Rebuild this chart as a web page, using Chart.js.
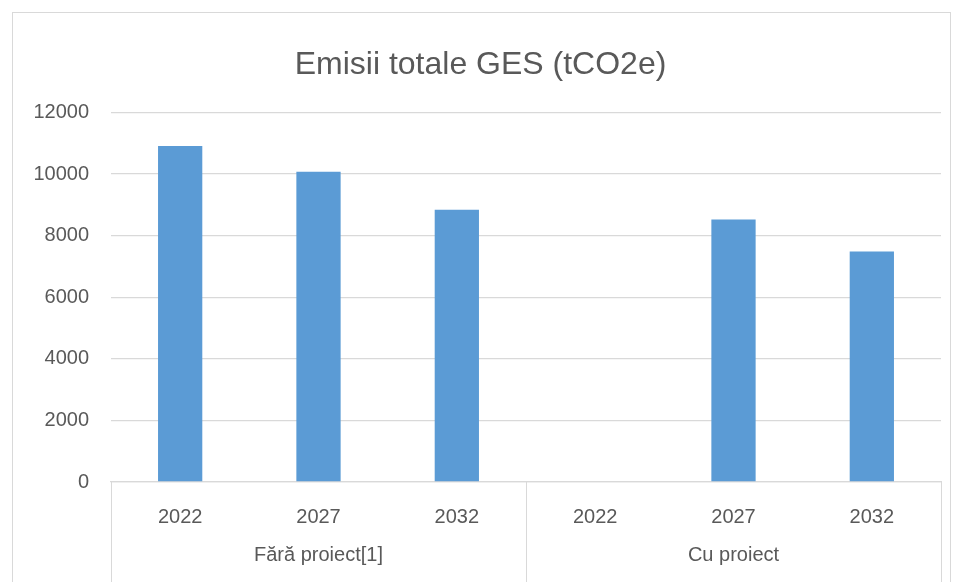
<!DOCTYPE html>
<html>
<head>
<meta charset="utf-8">
<script src="https://cdn.jsdelivr.net/npm/chart.js@4.4.1/dist/chart.umd.min.js"></script>
<style>
  html, body { margin: 0; padding: 0; background: #fff; }
  #wrap { width: 956px; height: 582px; }
</style>
</head>
<body>
<div id="wrap"><canvas id="grafic" width="956" height="582"></canvas></div>
<script>
const ani = ["2022", "2027", "2032", "2022", "2027", "2032"];
const grupuri = ["Fără proiect[1]", "Cu proiect"];
const emisii = [10910, 10070, 8840, null, 8520, 7480];
const yTicks = [0, 2000, 4000, 6000, 8000, 10000, 12000];

const gri = "#595959";
const linie = "#d9d9d9";
const font = "'Liberation Sans', Arial, sans-serif";

// chenar + separatoare intre grupuri
const decor = {
  id: "decor",
  beforeDraw(chart) {
    const ctx = chart.ctx;
    ctx.save();
    ctx.strokeStyle = linie;
    ctx.lineWidth = 1;
    ctx.strokeRect(12.5, 12.5, 938, 700);
    ctx.restore();
  },
  afterDraw(chart) {
    const ctx = chart.ctx;
    const x = chart.scales.x;
    const bottom = chart.chartArea.bottom;
    ctx.save();
    ctx.strokeStyle = linie;
    ctx.lineWidth = 1;
    [-0.5, 2.5, 5.5].forEach(v => {
      const px = Math.round(x.getPixelForValue(v)) + 0.5;
      ctx.beginPath();
      ctx.moveTo(px, bottom);
      ctx.lineTo(px, chart.height);
      ctx.stroke();
    });
    ctx.restore();
  }
};

new Chart(document.getElementById("grafic"), {
  type: "bar",
  data: {
    labels: ani,
    datasets: [{
      label: "Emisii",
      data: emisii,
      backgroundColor: "#5b9bd5",
      barPercentage: 0.32,
      categoryPercentage: 1
    }]
  },
  plugins: [decor],
  options: {
    responsive: false,
    animation: false,
    layout: { padding: { top: 46, left: 20, right: 15, bottom: 0 } },
    plugins: {
      legend: { display: false },
      tooltip: { enabled: false },
      title: {
        display: true,
        text: "Emisii totale GES (tCO2e)",
        color: gri,
        font: { family: font, size: 32, weight: "normal" },
        padding: { top: 0, bottom: 28 }
      }
    },
    scales: {
      y: {
        min: 0,
        max: 12000,
        afterBuildTicks(axis) { axis.ticks = yTicks.map(v => ({ value: v })); },
        afterFit(axis) { axis.width = 91; },
        grid: { color: linie, lineWidth: 1.3, drawTicks: false },
        border: { display: false },
        ticks: {
          color: gri, padding: 22, font: { family: font, size: 20 },
          callback: v => String(v)
        }
      },
      x: {
        offset: true,
        afterFit(axis) { axis.height = 48; },
        grid: { display: false },
        border: { display: true, color: linie, width: 1.3 },
        ticks: { color: gri, padding: 15, maxRotation: 0, autoSkip: false, font: { family: font, size: 20 } }
      },
      x2: {
        type: "category",
        labels: grupuri,
        position: "bottom",
        offset: true,
        afterFit(axis) { axis.height = 52; },
        grid: { display: false },
        border: { display: false },
        ticks: { color: gri, padding: 5, maxRotation: 0, autoSkip: false, font: { family: font, size: 20 } }
      }
    }
  }
});
</script>
</body>
</html>
